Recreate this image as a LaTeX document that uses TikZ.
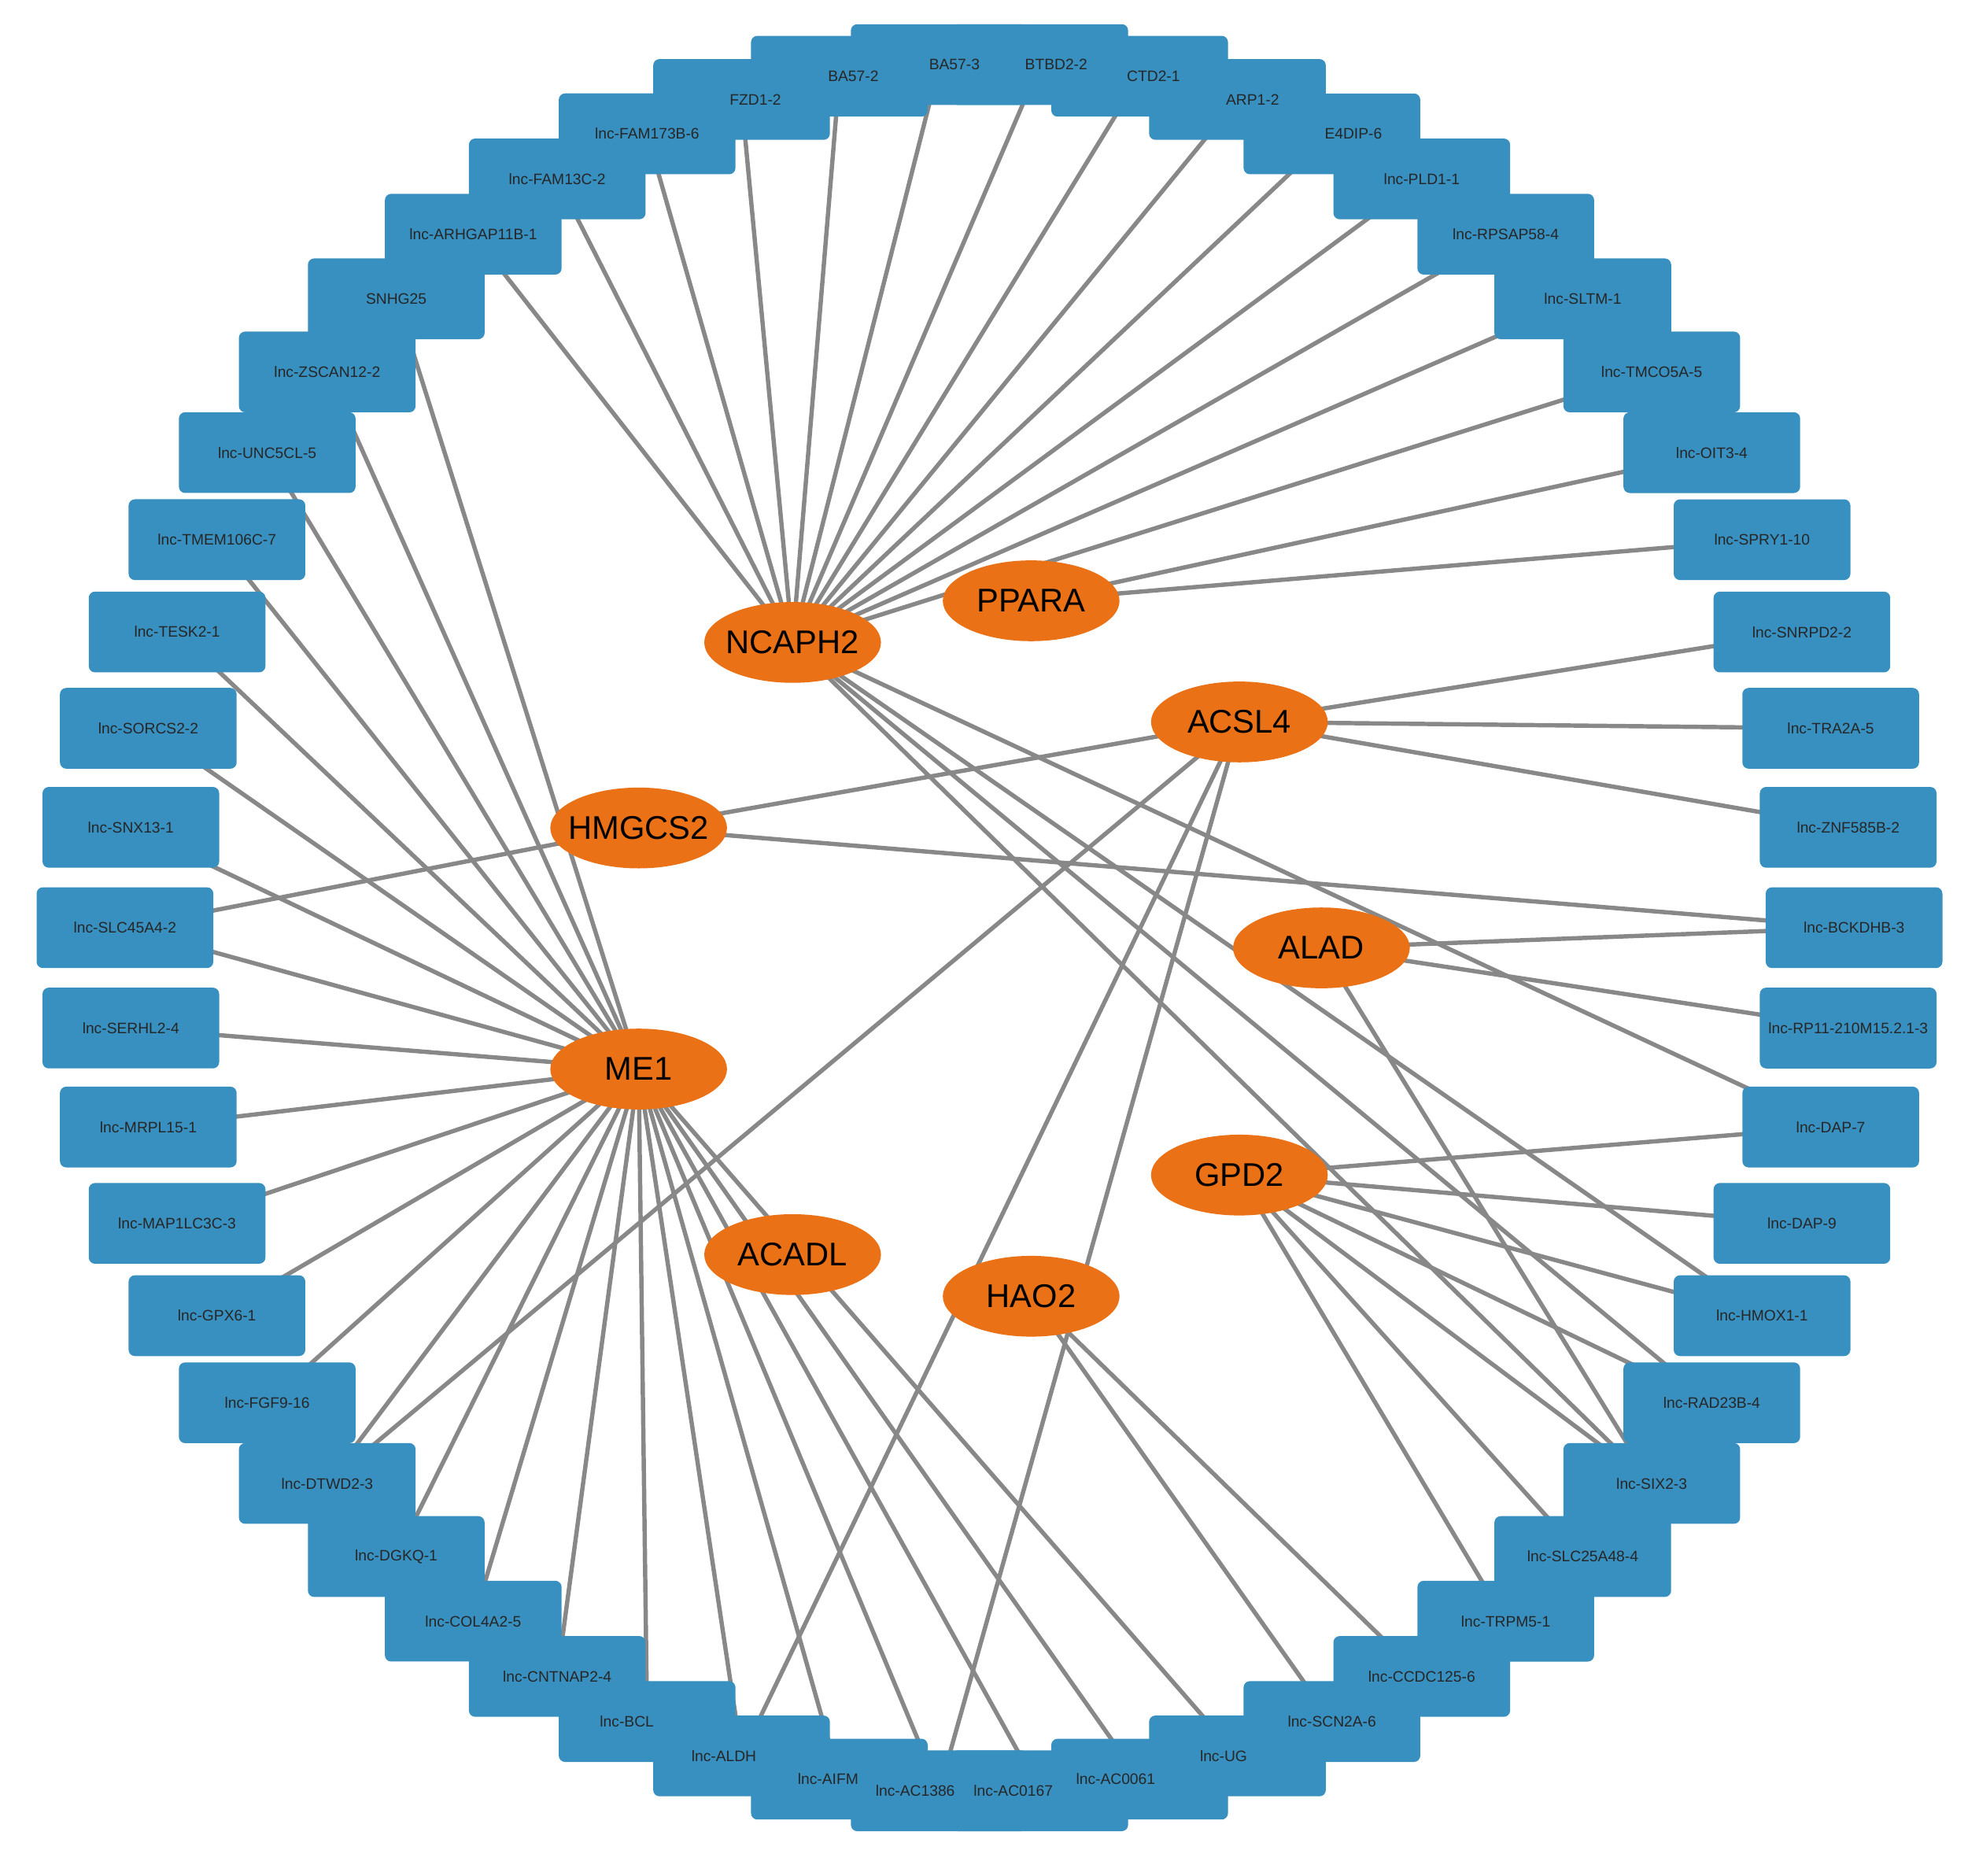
\documentclass[tikz,border=0pt]{standalone}
\usepackage{fontspec}
\setmainfont{Liberation Sans}
\usetikzlibrary{calc}
\pgfdeclarelayer{bg}\pgfdeclarelayer{paper}\pgfsetlayers{paper,bg,main}
\definecolor{boxblue}{RGB}{56,144,192}
\definecolor{gorange}{RGB}{235,113,22}
\definecolor{edgegray}{RGB}{136,136,136}
\tikzset{
  box/.style={draw=none,fill=boxblue,rounded corners=5pt,minimum width=140pt,minimum height=64pt,inner sep=0pt},
  lab/.style={inner sep=0pt,text=black!85,font=\fontsize{12}{14}\selectfont},
  gene/.style={inner sep=0pt,font=\fontsize{26}{30}\selectfont},
  edge/.style={draw=edgegray,line width=3.4pt}
}
\begin{document}
\begin{tikzpicture}[x=1pt,y=1pt]
\begin{pgfonlayer}{paper}
\fill[white] (0,0) rectangle (1568,1486);
\end{pgfonlayer}
\useasboundingbox (0,0) rectangle (1568,1486);
\coordinate (C) at (784,751);
\foreach \i in {0,...,53}{
  \pgfmathsetmacro\a{93.3333-6.66667*\i}
  \node[box] (n\i) at ($(C)+(\a:685pt)$) {};
}
\foreach \i/\t/\dx in {0/BA57-3/12,1/BTBD2-2/13,2/CTD2-1/11,3/ARP1-2/12,4/E4DIP-6/17,5/lnc-PLD1-1/0,6/lnc-RPSAP58-4/0,7/lnc-SLTM-1/0,8/lnc-TMCO5A-5/0,9/lnc-OIT3-4/0,10/lnc-SPRY1-10/0,11/lnc-SNRPD2-2/0,12/lnc-TRA2A-5/0,13/lnc-ZNF585B-2/0,14/lnc-BCKDHB-3/0,15/lnc-RP11-210M15.2.1-3/0,16/lnc-DAP-7/0,17/lnc-DAP-9/0,18/lnc-HMOX1-1/0,19/lnc-RAD23B-4/0,20/lnc-SIX2-3/0,21/lnc-SLC25A48-4/0,22/lnc-TRPM5-1/0,23/lnc-CCDC125-6/0,24/lnc-SCN2A-6/0,25/lnc-UG/-11,26/lnc-AC0061/-19,27/lnc-AC0167/-21,28/lnc-AC1386/-19,29/lnc-AIFM/-9,30/lnc-ALDH/-14,31/lnc-BCL/-16,32/lnc-CNTNAP2-4/0,33/lnc-COL4A2-5/0,34/lnc-DGKQ-1/0,35/lnc-DTWD2-3/0,36/lnc-FGF9-16/0,37/lnc-GPX6-1/0,38/lnc-MAP1LC3C-3/0,39/lnc-MRPL15-1/0,40/lnc-SERHL2-4/0,41/lnc-SLC45A4-2/0,42/lnc-SNX13-1/0,43/lnc-SORCS2-2/0,44/lnc-TESK2-1/0,45/lnc-TMEM106C-7/0,46/lnc-UNC5CL-5/0,47/lnc-ZSCAN12-2/0,48/SNHG25/0,49/lnc-ARHGAP11B-1/0,50/lnc-FAM13C-2/0,51/lnc-FAM173B-6/0,52/FZD1-2/11,53/BA57-2/11}{
  \node[lab] (t\i) at ($(n\i)+(\dx pt,0)$) {\t};
}
\foreach \g/\x/\y in {NCAPH2/628/977,PPARA/817/1010,ACSL4/982/914,HMGCS2/506/830,ALAD/1047/735,ME1/506/639,GPD2/982/555,ACADL/628/492,HAO2/817/459}{
  \fill[gorange] (\x,\y) ellipse [x radius=70pt,y radius=32pt];
  \node[gene] (\g) at (\x,\y) {\g};
}
\begin{pgfonlayer}{bg}
\foreach \j in {49,50,51,52,53,0,1,2,3,4,5,6,7,8,16,18,19,20}{\draw[edge] (NCAPH2.center) -- (n\j.center);}
\foreach \j in {9,10}{\draw[edge] (PPARA.center) -- (n\j.center);}
\foreach \j in {11,12,13,35,30,28}{\draw[edge] (ACSL4.center) -- (n\j.center);}
\draw[edge] (ACSL4.center) -- (HMGCS2.center);
\foreach \j in {41,14}{\draw[edge] (HMGCS2.center) -- (n\j.center);}
\foreach \j in {14,15,20}{\draw[edge] (ALAD.center) -- (n\j.center);}
\foreach \j in {16,17,18,19,20,21,22}{\draw[edge] (GPD2.center) -- (n\j.center);}
\foreach \j in {23,24}{\draw[edge] (HAO2.center) -- (n\j.center);}
\foreach \j in {25,...,48}{\draw[edge] (ME1.center) -- (n\j.center);}
\end{pgfonlayer}
\end{tikzpicture}
\end{document}
